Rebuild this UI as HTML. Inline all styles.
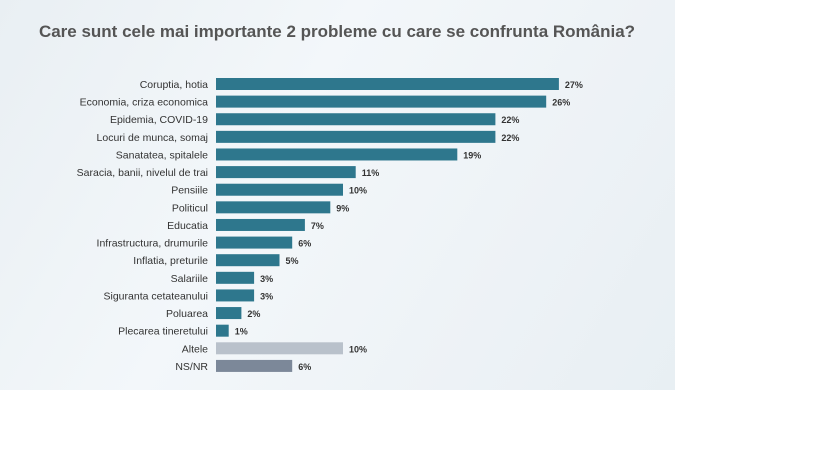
<!DOCTYPE html>
<html><head><meta charset="utf-8"><style>
body{margin:0;width:816px;height:460px;background:#fff;font-family:"Liberation Sans",sans-serif;overflow:hidden}
#panel{position:absolute;left:0;top:0;width:675px;height:390px;background:linear-gradient(120deg,#e9eff3 0%,#f3f7fa 40%,#edf2f6 75%,#e8eff3 100%)}
</style></head><body>
<div id="panel">
<svg id="c" width="675" height="390">
<text x="337" y="37" text-anchor="middle" font-size="17" font-weight="bold" fill="#555">Care sunt cele mai importante 2 probleme cu care se confrunta România?</text>
</svg></div>
<script>
const categories=["Coruptia, hotia","Economia, criza economica","Epidemia, COVID-19","Locuri de munca, somaj","Sanatatea, spitalele","Saracia, banii, nivelul de trai","Pensiile","Politicul","Educatia","Infrastructura, drumurile","Inflatia, preturile","Salariile","Siguranta cetateanului","Poluarea","Plecarea tineretului","Altele","NS/NR"];
const values=[27,26,22,22,19,11,10,9,7,6,5,3,3,2,1,10,6];
const valueLabels=values.map(v=>v+"%");
const svg=document.getElementById('c');const ns="http://www.w3.org/2000/svg";
const x0=216,pxPer=12.7,y0=84,step=17.62,bh=12;
const xs=v=>x0+v*pxPer, ys=i=>y0+i*step;
categories.forEach((c,i)=>{
 const col=i===15?"#b9c1cb":i===16?"#7c8899":"#2e778d";
 const r=document.createElementNS(ns,'rect');
 
 
 r.setAttribute('x',x0);r.setAttribute('y',ys(i)-bh/2);r.setAttribute('width',xs(values[i])-x0);r.setAttribute('height',bh);r.setAttribute('fill',col);svg.appendChild(r);
 const t=document.createElementNS(ns,'text');
 
 
 t.setAttribute('x',208);t.setAttribute('y',ys(i)+4);t.setAttribute('text-anchor','end');t.setAttribute('font-size','10.5');t.setAttribute('fill','#333');t.textContent=c;svg.appendChild(t);
 const v=document.createElementNS(ns,'text');
 
 
 v.setAttribute('x',xs(values[i])+6);v.setAttribute('y',ys(i)+4);v.setAttribute('font-size','9');v.setAttribute('font-weight','bold');v.setAttribute('fill','#333');v.textContent=valueLabels[i];svg.appendChild(v);
});
</script>
</body></html>
